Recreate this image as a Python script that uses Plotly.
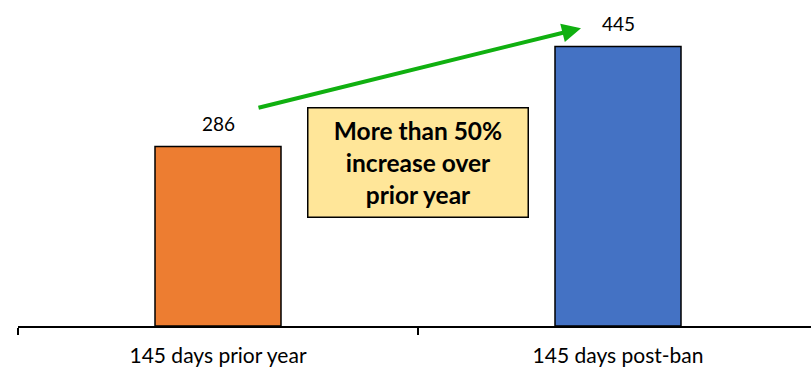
import plotly.graph_objects as go

categories = ["145 days prior year", "145 days post-ban"]
values = [286, 445]
colors = ["#ED7D31", "#4472C4"]
callout = "More than 50%<br>increase over<br>prior year"

FONT = "Lato"

fig = go.Figure()
fig.add_trace(go.Bar(
    x=categories, y=values,
    marker=dict(color=colors, line=dict(color="#000000", width=1.5)),
    width=0.315,
    hoverinfo="skip",
))

for c, v in zip(categories, values):
    fig.add_annotation(x=c, y=v, text=str(v), showarrow=False, yshift=23,
                       font=dict(family=FONT, size=19, color="#000000"))

# green arrow
fig.add_annotation(x=0.9075, y=474, ax=0.0975, ay=347, xref="x", yref="y",
                   axref="x", ayref="y", text="", showarrow=True,
                   arrowhead=2, arrowsize=0.95, arrowwidth=4, arrowcolor="#10B010")

# callout box
fig.add_annotation(x=0.5, y=260, xref="x", yref="y", text="<b>" + callout + "</b>",
                   showarrow=False, width=219, height=108, bgcolor="#FFE699",
                   bordercolor="#000000", borderwidth=1.5, borderpad=0,
                   font=dict(family=FONT, size=24.5, color="#000000"), align="center")

fig.update_layout(
    width=811, height=368,
    margin=dict(l=18, r=0, t=12, b=42),
    plot_bgcolor="white", paper_bgcolor="white",
    showlegend=False,
    xaxis=dict(range=[-0.5, 1.4825], showline=True, linecolor="#000000", linewidth=1.5,
               ticks="outside", tickson="boundaries", ticklen=7, tickcolor="#000000",
               tickwidth=1.5, showgrid=False, automargin=False, ticklabelstandoff=10,
               tickfont=dict(family=FONT, size=21, color="#000000")),
    yaxis=dict(range=[0, 500], visible=False, showgrid=False),
)

fig.write_html("out.html")
